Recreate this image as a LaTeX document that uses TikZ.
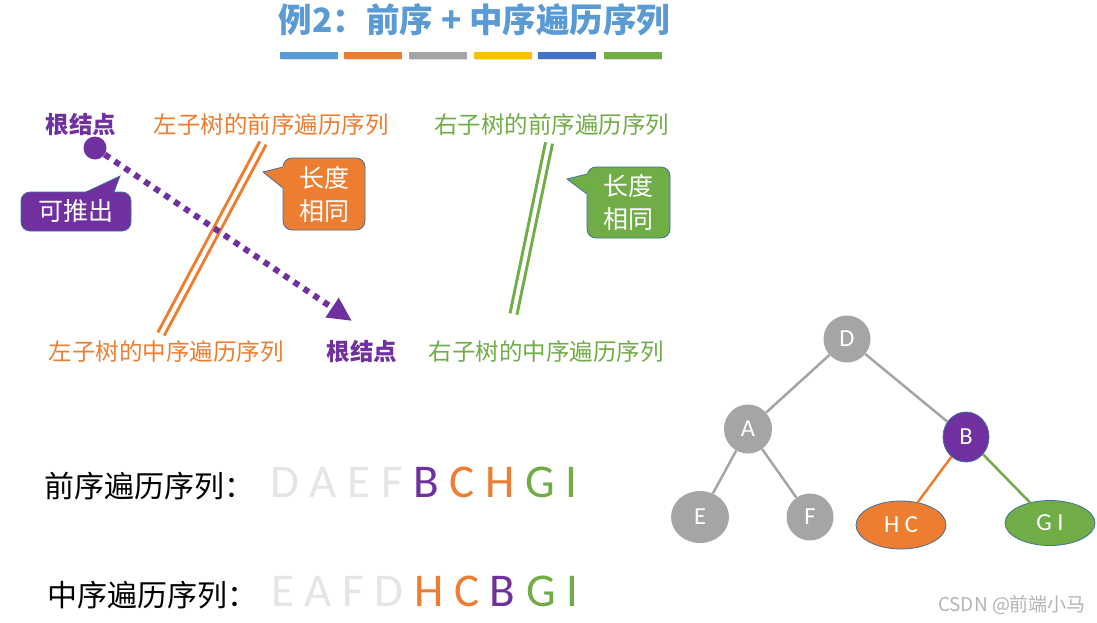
\documentclass[tikz,border=0pt]{standalone}
\usepackage{fontspec}
\setmainfont{Carlito}
\newfontfamily\cjk{Noto Sans CJK SC}
\usetikzlibrary{arrows.meta,shadows,shapes.geometric}
\definecolor{tblue}{HTML}{5B9BD5}
\definecolor{torange}{HTML}{ED7D31}
\definecolor{tgray}{HTML}{A5A5A5}
\definecolor{tyellow}{HTML}{FFC000}
\definecolor{tdblue}{HTML}{4472C4}
\definecolor{tgreen}{HTML}{70AD47}
\definecolor{tpurple}{HTML}{7030A0}
\definecolor{tlight}{HTML}{E5E5E5}
\definecolor{cborder}{HTML}{41719C}
\definecolor{wm}{HTML}{B4B4B4}
\begin{document}
\begin{tikzpicture}[x=1pt,y=-1pt,
  lbl/.style={inner sep=0pt, font=\cjk\fontsize{23.5}{28}\selectfont},
  bar/.style={minimum width=57.5pt, minimum height=7pt, inner sep=0pt, drop shadow={opacity=0.25,shadow xshift=0.8pt,shadow yshift=-0.8pt}},
  cbox/.style={rounded corners=9pt, draw=cborder, line width=0.8pt, text=white, inner sep=0pt, align=center, font=\cjk\fontsize{25}{33}\selectfont},
  dbl/.style={line width=3pt, double=white, double distance=4pt},
  tnode/.style={ellipse, text=white, inner sep=0pt, font=\fontsize{24.5}{26}\selectfont},
  tedge/.style={line width=2.5pt, tgray},
  seqlbl/.style={inner sep=0pt, anchor=base west, font=\cjk\fontsize{30}{34}\selectfont},
  seq/.style={inner sep=0pt, anchor=base west, font=\fontsize{47}{50}\selectfont}
]
\useasboundingbox (0,0) rectangle (1097,622);
\fill[white] (0,0) rectangle (1097,622);

% title
\node[inner sep=0pt, text=tblue, font=\cjk\bfseries\fontsize{33.5}{36}\selectfont] (title) at (474.5,20) {例2：前序 + 中序遍历序列};
\node[bar, fill=tblue]   (b1) at (308.8,55.5) {};
\node[bar, fill=torange] (b2) at (372.8,55.5) {};
\node[bar, fill=tgray]   (b3) at (437.8,55.5) {};
\node[bar, fill=tyellow] (b4) at (502.8,55.5) {};
\node[bar, fill=tdblue]  (b5) at (566.8,55.5) {};
\node[bar, fill=tgreen]  (b6) at (632.8,55.5) {};

% labels
\node[lbl, text=tpurple, font=\cjk\bfseries\fontsize{23.5}{28}\selectfont] (root1) at (81,125) {根结点};
\node[lbl, text=torange] (lpre) at (271,125) {左子树的前序遍历序列};
\node[lbl, text=tgreen]  (rpre) at (551.5,125) {右子树的前序遍历序列};
\node[lbl, text=torange] (lin) at (166,352) {左子树的中序遍历序列};
\node[lbl, text=tpurple, font=\cjk\bfseries\fontsize{23.5}{28}\selectfont] (root2) at (362,352) {根结点};
\node[lbl, text=tgreen]  (rin) at (546,352) {右子树的中序遍历序列};

% double lines
\coordinate (o1) at (263,143);
\coordinate (o2) at (161,334);
\coordinate (g1) at (549,143);
\coordinate (g2) at (513.5,314);
\draw[dbl, torange] (o1) -- (o2);
\draw[dbl, tgreen] (g1) -- (g2);

% purple dot and dotted arrow
\node[circle, fill=tpurple, minimum size=23pt, inner sep=0pt] (dot) at (95,148) {};
\coordinate (atip) at (352,321);
\draw[tpurple, line width=6pt, dash pattern=on 6pt off 6pt, -{Triangle[length=24pt,width=22pt]}] (dot) -- (atip);

% callout: 可推出
\node[cbox, fill=tpurple, minimum width=110pt, minimum height=39pt] (cp) at (76,211.5) {可推出};
\coordinate (cptip) at (120,176);
\coordinate (cpa) at (86,192);
\coordinate (cpb) at (114,192);
\filldraw[fill=tpurple, draw=cborder, line width=0.8pt] (cpa) -- (cptip) -- (cpb);
\fill[tpurple] ([xshift=0.6pt,yshift=-0.5pt]cpa) rectangle ([xshift=-0.6pt,yshift=1.2pt]cpb);

% callout: orange
\node[cbox, fill=torange, minimum width=82pt, minimum height=72pt] (co) at (324,194) {长度\\相同};
\coordinate (cotip) at (263,172);
\coordinate (coa) at (283,167);
\coordinate (cob) at (283,188);
\filldraw[fill=torange, draw=cborder, line width=0.8pt] (coa) -- (cotip) -- (cob);
\fill[torange] ([xshift=-0.5pt,yshift=0.6pt]coa) rectangle ([xshift=1.2pt,yshift=-0.6pt]cob);

% callout: green
\node[cbox, fill=tgreen, minimum width=83pt, minimum height=71pt] (cg) at (628.5,202.5) {长度\\相同};
\coordinate (cgtip) at (567,179);
\coordinate (cga) at (587,174);
\coordinate (cgb) at (587,194);
\filldraw[fill=tgreen, draw=cborder, line width=0.8pt] (cga) -- (cgtip) -- (cgb);
\fill[tgreen] ([xshift=-0.5pt,yshift=0.6pt]cga) rectangle ([xshift=1.2pt,yshift=-0.6pt]cgb);

% sequences
\node[seqlbl] (pl) at (44,497) {前序遍历序列：};
\node[seq] (ps) at (270,497) {\textcolor{tlight}{D A E F} \textcolor{tpurple}{B} \textcolor{torange}{C H} \textcolor{tgreen}{G I}};
\node[seqlbl] (il) at (47,606) {中序遍历序列：};
\node[seq] (is) at (271,606) {\textcolor{tlight}{E A F D} \textcolor{torange}{H C} \textcolor{tpurple}{B} \textcolor{tgreen}{G I}};

% tree
\node[tnode, fill=tgray, minimum width=47pt, minimum height=47pt] (D) at (847,339) {D};
\node[tnode, fill=tgray, minimum width=48pt, minimum height=49pt] (A) at (748,429) {A};
\node[tnode, fill=tpurple, draw=cborder, line width=0.8pt, minimum width=46pt, minimum height=50pt] (B) at (966,437) {B};
\node[tnode, fill=tgray, minimum width=58pt, minimum height=52pt] (E) at (700,517) {E};
\node[tnode, fill=tgray, minimum width=47pt, minimum height=47pt] (F) at (810,517) {F};
\node[tnode, fill=torange, draw=cborder, line width=0.8pt, minimum width=90pt, minimum height=48pt] (HC) at (901,525) {H C};
\node[tnode, fill=tgreen, draw=cborder, line width=0.8pt, minimum width=90pt, minimum height=45pt] (GI) at (1050,523) {G I};
\draw[tedge] (D) -- (A);
\draw[tedge] (D) -- (B);
\draw[tedge] (A) -- (E);
\draw[tedge] (A) -- (F);
\draw[tedge, torange] (B) -- (HC);
\draw[tedge, tgreen] (B) -- (GI);

% watermark
\node[inner sep=0pt, text=wm, font=\cjk\fontsize{19}{21}\selectfont] (wmk) at (1012,605) {CSDN @前端小马};
\end{tikzpicture}
\end{document}
